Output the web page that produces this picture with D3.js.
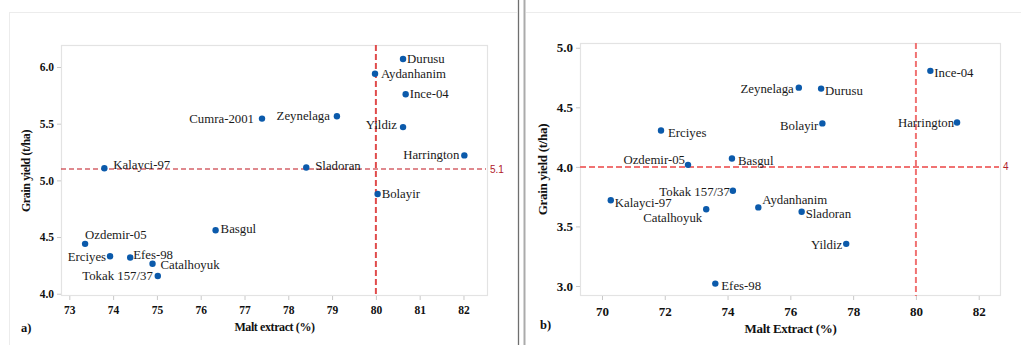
<!DOCTYPE html>
<html>
<head>
<meta charset="utf-8">
<script src="https://cdn.jsdelivr.net/npm/d3@7/dist/d3.min.js"></script>
<style>
  html, body { margin: 0; padding: 0; background: #fff; }
  svg { display: block; }
</style>
</head>
<body>
<svg id="chart" width="1021" height="345"></svg>
<script>
// Barley cultivars: malt extract (%) vs grain yield (t/ha), two trials
const cultivars = ["Durusu", "Aydanhanim", "Ince-04", "Cumra-2001", "Zeynelaga", "Yildiz",
  "Harrington", "Kalayci-97", "Sladoran", "Bolayir", "Basgul", "Ozdemir-05", "Erciyes",
  "Efes-98", "Catalhoyuk", "Tokak 157/37"];

// Trial a)
const maltA  = [80.62, 79.98, 80.68, 77.40, 79.11, 80.62, 82.02, 73.80, 78.41, 80.04, 76.34, 73.36, 73.93, 74.39, 74.90, 75.02];
const yieldA = [6.07, 5.94, 5.76, 5.545, 5.565, 5.47, 5.22, 5.107, 5.113, 4.88, 4.56, 4.44, 4.33, 4.32, 4.265, 4.156];

// Trial b) (Cumra-2001 not present)
const maltB  = [76.98, 74.98, 80.46, null, 76.27, 77.78, 81.31, 70.28, 76.36, 77.02, 74.14, 72.74, 71.88, 73.61, 73.32, 74.17];
const yieldB = [4.657, 3.66, 4.806, null, 4.665, 3.354, 4.373, 3.72, 3.623, 4.365, 4.07, 4.017, 4.306, 3.02, 3.644, 3.80];

const xTicksA = [73, 74, 75, 76, 77, 78, 79, 80, 81, 82];
const yTicksA = [4.0, 4.5, 5.0, 5.5, 6.0];
const xTicksB = [70, 72, 74, 76, 78, 80, 82];
const yTicksB = [3.0, 3.5, 4.0, 4.5, 5.0];

// Reference lines (malt extract threshold, mean yield)
const refA = { x: 80, y: 5.1, label: "5.1" };
const refB = { x: 80, y: 4, label: "4" };

// Label placement per cultivar: side (l/r/t), vertical shift in px
const placeA = {
  "Durusu": ["r", 0], "Aydanhanim": ["r", 0], "Ince-04": ["r", 0], "Cumra-2001": ["l", 0],
  "Zeynelaga": ["l", -1], "Yildiz": ["l", -2], "Harrington": ["l", -1], "Kalayci-97": ["r", -3],
  "Sladoran": ["r", -2], "Bolayir": ["r", 0], "Basgul": ["r", -1], "Ozdemir-05": ["t", -9],
  "Erciyes": ["l", 0], "Efes-98": ["r", -3], "Catalhoyuk": ["r", 1], "Tokak 157/37": ["l", 0]
};
const gapA = { "Durusu": 4, "Aydanhanim": 6, "Ince-04": 4, "Cumra-2001": 8, "Zeynelaga": 7,
  "Yildiz": 6, "Harrington": 5, "Kalayci-97": 9, "Sladoran": 9, "Bolayir": 4, "Basgul": 5,
  "Ozdemir-05": 0, "Erciyes": 4, "Efes-98": 3, "Catalhoyuk": 8, "Tokak 157/37": 5 };

const placeB = {
  "Durusu": ["r", 2], "Aydanhanim": ["r", -8], "Ince-04": ["r", 2], "Zeynelaga": ["l", 1],
  "Yildiz": ["l", 1], "Harrington": ["l", 0], "Kalayci-97": ["r", 3], "Sladoran": ["r", 2],
  "Bolayir": ["l", 2], "Basgul": ["r", 2], "Ozdemir-05": ["l", -5], "Erciyes": ["r", 2],
  "Efes-98": ["r", 2], "Catalhoyuk": ["l", 8], "Tokak 157/37": ["l", 1]
};
const gapB = { "Durusu": 4, "Aydanhanim": 4, "Ince-04": 4, "Zeynelaga": 5, "Yildiz": 4,
  "Harrington": 3, "Kalayci-97": 4, "Sladoran": 4, "Bolayir": 4, "Basgul": 6,
  "Ozdemir-05": 3, "Erciyes": 7, "Efes-98": 6, "Catalhoyuk": 4, "Tokak 157/37": 3 };

const svg = d3.select("#chart");
const serifFont = "Liberation Serif";
const dotColor = "#0b5aab";
const frameColor = "#e3e3e3";

// Panel surrounds and divider
svg.append("line").attr("x1", 9).attr("x2", 517).attr("y1", 12.5).attr("y2", 12.5)
  .attr("stroke", "#ececec").attr("stroke-width", 1);
svg.append("line").attr("x1", 9.5).attr("x2", 9.5).attr("y1", 12).attr("y2", 345)
  .attr("stroke", "#ececec").attr("stroke-width", 1);
svg.append("line").attr("x1", 526).attr("x2", 1021).attr("y1", 12.5).attr("y2", 12.5)
  .attr("stroke", "#ececec").attr("stroke-width", 1);
svg.append("line").attr("x1", 518.5).attr("x2", 518.5).attr("y1", 0).attr("y2", 345)
  .attr("stroke", "#6f6f6f").attr("stroke-width", 1.3);
svg.append("line").attr("x1", 524.5).attr("x2", 524.5).attr("y1", 0).attr("y2", 345)
  .attr("stroke", "#ababab").attr("stroke-width", 2);

function drawPanel(o) {
  const x = d3.scaleLinear().domain(o.xDomain).range([o.left, o.right]);
  const y = d3.scaleLinear().domain(o.yDomain).range([o.bottom, o.top]);
  const g = svg.append("g");

  // plot frame
  g.append("rect").attr("x", o.left + 0.5).attr("y", o.top + 0.5)
    .attr("width", o.right - o.left - 1).attr("height", o.bottom - o.top - 1)
    .attr("fill", "none").attr("stroke", frameColor).attr("stroke-width", 1.2);

  // axes
  const xAxis = d3.axisBottom(x).tickValues(o.xTicks).tickFormat(d3.format("d"))
    .tickSize(4).tickPadding(o.xPad);
  const yAxis = d3.axisLeft(y).tickValues(o.yTicks).tickFormat(d3.format(".1f"))
    .tickSize(4).tickPadding(3);
  const gx = g.append("g").attr("transform", `translate(0,${o.bottom})`).call(xAxis);
  const gy = g.append("g").attr("transform", `translate(${o.left},0)`).call(yAxis);
  [gx, gy].forEach(a => {
    a.attr("font-family", serifFont);
    a.select(".domain").remove();
    a.selectAll(".tick line").attr("stroke", "#c8c8c8");
    a.selectAll(".tick text").attr("fill", "#111").style("font-family", serifFont)
      .style("font-weight", "bold").style("font-size", o.tickFont + "px");
  });

  // reference lines
  g.append("line").attr("x1", x(o.ref.x)).attr("x2", x(o.ref.x))
    .attr("y1", o.top).attr("y2", o.bottom)
    .attr("stroke", o.vColor).attr("stroke-width", 2).attr("stroke-dasharray", "6,3");
  g.append("line").attr("x1", o.left).attr("x2", o.right - 2)
    .attr("y1", y(o.ref.y)).attr("y2", y(o.ref.y))
    .attr("stroke", o.hColor).attr("stroke-width", o.hWidth).attr("stroke-dasharray", o.hDash);
  g.append("text").attr("x", o.right + 2).attr("y", y(o.ref.y)).attr("dy", "0.35em")
    .attr("fill", "#b0202a").style("font-family", "Liberation Sans")
    .style("font-size", "10px").text(o.ref.label);

  // points and labels
  const rows = cultivars.map((name, i) => ({ name, mx: o.mx[i], gy: o.gy[i] }))
    .filter(d => d.mx != null);
  g.selectAll("circle.pt").data(rows).join("circle").attr("class", "pt")
    .attr("cx", d => x(d.mx)).attr("cy", d => y(d.gy)).attr("r", 3.2).attr("fill", dotColor);
  g.selectAll("text.lbl").data(rows).join("text").attr("class", "lbl")
    .attr("x", d => {
      const [side] = o.place[d.name], gap = o.gap[d.name];
      return side === "l" ? x(d.mx) - gap : side === "r" ? x(d.mx) + gap : x(d.mx);
    })
    .attr("y", d => y(d.gy) + o.place[d.name][1])
    .attr("dy", "0.33em")
    .attr("text-anchor", d => o.place[d.name][0] === "l" ? "end" : "start")
    .attr("fill", "#1a1a1a").style("font-family", serifFont).style("font-size", "12.8px")
    .text(d => d.name);

  // axis titles and panel tag
  g.append("text").attr("x", (o.left + o.right) / 2).attr("y", o.xTitleY)
    .attr("text-anchor", "middle").attr("fill", "#111").style("font-family", serifFont)
    .style("font-weight", "bold").style("font-size", o.titleFont + "px")
    .style("letter-spacing", o.titleSpacing + "px").text(o.xTitle);
  g.append("text").attr("transform", `translate(${o.yTitleX},${o.yTitleMid}) rotate(-90)`)
    .attr("text-anchor", "middle").attr("fill", "#111").style("font-family", serifFont)
    .style("font-weight", "bold").style("font-size", o.titleFont + "px")
    .style("letter-spacing", o.titleSpacing + "px").text("Grain yield (t/ha)");
  g.append("text").attr("x", o.tagX).attr("y", o.tagY).attr("fill", "#111")
    .style("font-family", serifFont).style("font-weight", "bold").style("font-size", "12.5px")
    .text(o.tag);
}

drawPanel({
  left: 61, right: 488, top: 45, bottom: 296,
  xDomain: [72.81, 82.56], yDomain: [3.98, 6.194],
  xTicks: xTicksA, yTicks: yTicksA, tickFont: 11.5, xPad: 6,
  mx: maltA, gy: yieldA, ref: refA, place: placeA, gap: gapA,
  vColor: "#e04b4b", hColor: "#c0141e", hWidth: 1.1, hDash: "5,3",
  xTitle: "Malt extract (%)", xTitleY: 331, yTitleX: 30, yTitleMid: 171,
  titleFont: 12, titleSpacing: -0.4, tag: "a)", tagX: 21, tagY: 332
});

drawPanel({
  left: 580, right: 1001, top: 43, bottom: 296,
  xDomain: [69.30, 82.71], yDomain: [2.916, 5.04],
  xTicks: xTicksB, yTicks: yTicksB, tickFont: 13, xPad: 7,
  mx: maltB, gy: yieldB, ref: refB, place: placeB, gap: gapB,
  vColor: "#f07272", hColor: "#f07272", hWidth: 2, hDash: "6,3",
  xTitle: "Malt Extract (%)", xTitleY: 333, yTitleX: 547, yTitleMid: 169.5,
  titleFont: 13, titleSpacing: -0.3, tag: "b)", tagX: 540, tagY: 329
});
</script>
</body>
</html>
